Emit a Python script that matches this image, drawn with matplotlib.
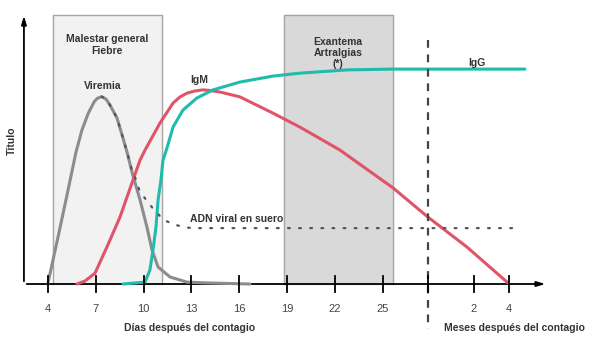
import matplotlib.pyplot as plt
import numpy as np

plt.rcParams['font.family'] = ['Liberation Sans', 'DejaVu Sans']

# x in "day units" (months placed on the same axis after the break), y = titre (0-100)
viremia_x = [4.0, 4.63, 5.26, 5.76, 6.13, 6.51, 6.89, 7.08, 7.37, 7.64, 7.89, 8.33, 8.65, 8.96,
             9.27, 9.78, 10.21, 10.53, 10.91, 11.66, 12.73, 13.98, 16.68]
viremia_y = [0.4, 17.4, 34.8, 48.9, 57.0, 63.0, 67.4, 68.7, 69.4, 68.5, 66.3, 61.5, 55.2, 48.9,
             41.5, 31.1, 21.1, 12.6, 6.3, 2.6, 0.7, 0.4, 0.0]

adn_x = [7.37, 7.64, 7.89, 8.33, 8.65, 8.96, 9.27, 9.46, 9.71, 10.03, 10.40, 10.84, 11.28, 11.85,
         12.47, 13.04, 33.13]
adn_y = [69.4, 68.5, 66.3, 61.5, 55.2, 48.9, 42.2, 39.6, 35.2, 32.2, 29.3, 26.3, 23.7, 22.2,
         21.1, 20.7, 20.7]

igm_x = [5.82, 6.32, 6.95, 7.70, 8.52, 9.27, 9.78, 10.09, 11.03, 11.85, 12.29, 12.73, 13.23,
         13.73, 14.17, 14.80, 15.30, 16.05, 18.12, 19.82, 22.33, 25.66, 27.85, 30.30, 32.88]
igm_y = [0.0, 1.1, 4.0, 13.7, 24.8, 37.4, 45.9, 49.6, 59.6, 67.0, 69.3, 70.7, 71.5,
         71.9, 71.7, 71.1, 70.4, 69.3, 63.3, 58.1, 49.6, 35.6, 24.8, 13.7, 0.4]

igg_x = [8.71, 10.09, 10.40, 10.59, 10.78, 10.91, 11.09, 11.22, 11.47, 11.85, 12.47, 13.35,
         14.36, 16.05, 18.12, 19.82, 22.77, 25.66, 33.94]
igg_y = [0.0, 0.7, 5.2, 12.6, 21.1, 31.1, 38.5, 45.9, 50.4, 58.1, 64.4, 68.9,
         71.9, 74.8, 77.0, 78.1, 79.3, 79.6, 79.6]

tick_pos = [4, 7, 10, 13, 16, 19, 22, 25, 27.85, 30.74, 32.94]
tick_labels = ['4', '7', '10', '13', '16', '19', '22', '25', '', '2', '4']

box1 = (4.31, 11.16)
box2 = (18.81, 25.66)
break_x = 27.85

fig = plt.figure(figsize=(6.02, 3.39), dpi=100)
ax = fig.add_axes([0, 0, 1, 1])
ax.set_xlim(0.987, 38.78)
ax.set_ylim(-20.37, 105.19)
ax.axis('off')

# shaded periods
ax.fill_between(box1, 0, 99.6, color='#f2f2f2', zorder=0)
ax.plot([box1[0], box1[0], box1[1], box1[1]], [0, 99.6, 99.6, 0], color='#a6a6a6', lw=1, zorder=1)
ax.fill_between(box2, 0, 99.6, color='#d9d9d9', zorder=0)
ax.plot([box2[0], box2[0], box2[1], box2[1]], [0, 99.6, 99.6, 0], color='#a6a6a6', lw=1, zorder=1)

# axes with arrows
ax.annotate('', xy=(35.4, 0), xytext=(2.49, 0),
            arrowprops=dict(arrowstyle='-|>,head_length=0.5,head_width=0.15', color='black', lw=1.3))
ax.annotate('', xy=(2.49, 100.4), xytext=(2.49, 0),
            arrowprops=dict(arrowstyle='-|>,head_length=0.5,head_width=0.15', color='black', lw=1.3))
for p, lab in zip(tick_pos, tick_labels):
    ax.plot([p, p], [-2.8, 2.8], color='black', lw=1.3, zorder=5)
    ax.text(p, -9.2, lab, ha='center', va='center', fontsize=8, color='#444444')

# break line
ax.plot([break_x, break_x], [90.4, -16.5], color='#444444', lw=1.6,
        linestyle=(0, (3.5, 3)), zorder=4)

# curves
kw = dict(lw=2.2, zorder=3, solid_capstyle='round', solid_joinstyle='round')
ax.plot(viremia_x, viremia_y, color='#8c8c8c', **kw)
ax.plot(adn_x, adn_y, color='#555555', lw=1.6, linestyle=(0, (0.8, 4.2)),
        dash_capstyle='round', zorder=4)
ax.plot(igm_x, igm_y, color='#e0546a', **kw)
ax.plot(igg_x, igg_y, color='#1fbcae', **kw)

# texts
tc = '#333333'
ax.text(7.73, 88.5, 'Malestar general\nFiebre', ha='center', va='center', fontsize=7.5,
        fontweight='bold', color=tc, linespacing=1.2)
ax.text(7.45, 73.5, 'Viremia', ha='center', va='center', fontsize=7.5, fontweight='bold', color=tc)
ax.text(13.5, 75.5, 'IgM', ha='center', va='center', fontsize=7.5, fontweight='bold', color=tc)
ax.text(22.2, 85.5, 'Exantema\nArtralgias\n(*)', ha='center', va='center', fontsize=7.5,
        fontweight='bold', color=tc, linespacing=1.15)
ax.text(30.93, 82.0, 'IgG', ha='center', va='center', fontsize=7.5, fontweight='bold', color=tc)
ax.text(12.9, 24.0, 'ADN viral en suero', ha='left', va='center', fontsize=7.5,
        fontweight='bold', color=tc)
ax.text(12.9, -16.3, 'Días después del contagio', ha='center', va='center', fontsize=7.5,
        fontweight='bold', color=tc)
ax.text(33.3, -16.3, 'Meses después del contagio', ha='center', va='center', fontsize=7.5,
        fontweight='bold', color=tc)
ax.text(1.72, 53, 'Título', ha='center', va='center', rotation=90, fontsize=7.5,
        fontweight='bold', color=tc)

fig.savefig('out.png', dpi=100)
